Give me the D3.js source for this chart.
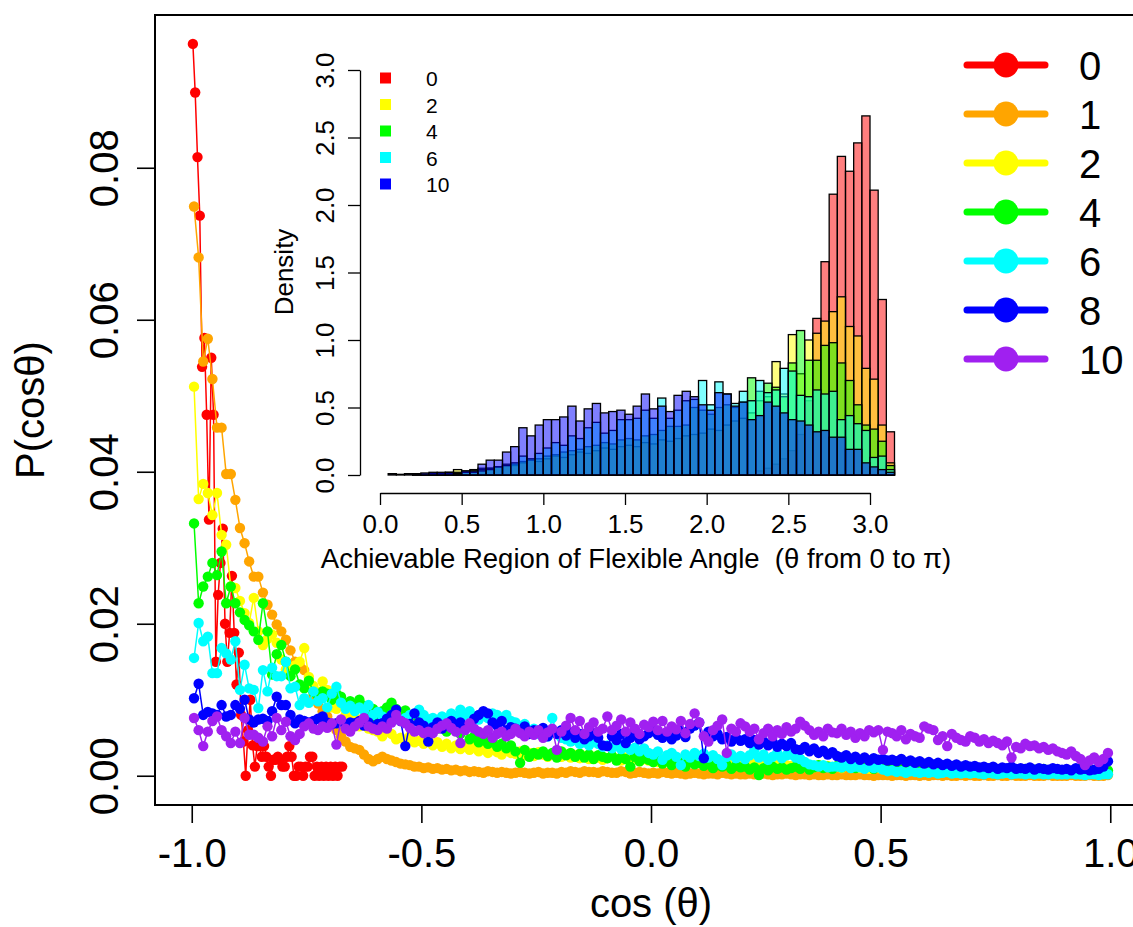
<!DOCTYPE html>
<html>
<head>
<meta charset="utf-8">
<script src="https://cdn.jsdelivr.net/npm/d3@7"></script>
<style>
  body { margin: 0; background: #fff; }
  svg { display: block; }
</style>
</head>
<body>
<div id="chart"></div>
<script>
// ---------- data ----------
// main panel: P(cos θ) per bin, stored as P × 10^4
const P_SCALE = 1e-4;
const groups      = ["0", "1", "2", "4", "6", "8", "10"];
const groupColors = ["#ff0000", "#ffa500", "#ffff00", "#00ff00", "#00ffff", "#0000ff", "#a020f0"];

// bin centres along cos θ (series "0" was binned finer)
const redStart = -0.9975, redStep = 0.005;
const binStart = -0.995,  binStep = 0.01;

const p0 = [963, 899, 814, 737, 538, 576, 475, 337, 550, 475,
  150, 238, 280, 325, 200, 150, 188, 263, 188, 120,
  162, 80, 45, 0, 60, 100, 40, 12, 39, 39,
  25, 39, 25, 12, 0, 21, 21, 25, 21, 12,
  12, 25, 39, 25, 0, 0, 12, 12, 0, 12,
  12, 25, 25, 0, 12, 0, 12, 0, 12, 0,
  12, 0, 12, 0, 12, 12];

const p1 = [749, 682, 545, 575, 522, 458, 458, 397, 397, 363,
  326, 306, 282, 262, 262, 241, 225, 212, 199, 190,
  179, 165, 150, 145, 139, 120, 105, 95, 85, 78,
  68, 60, 52, 45, 38, 36, 34, 28, 22, 19,
  22, 25, 22, 20, 18, 16, 15, 14, 12, 12,
  10, 11, 9, 10, 8, 9, 7, 8, 6, 7,
  5, 6, 5, 4, 6, 5, 4, 5, 4, 3,
  4, 5, 4, 3, 4, 5, 3, 4, 4, 3,
  5, 4, 6, 5, 4, 6, 5, 5, 4, 6,
  5, 4, 4, 6, 5, 3, 4, 5, 4, 3,
  4, 3, 5, 4, 3, 4, 3, 2, 3, 4,
  3, 2, 3, 3, 2, 4, 3, 2, 3, 2,
  2, 3, 2, 2, 3, 2, 1, 2, 2, 3,
  2, 1, 2, 2, 1, 2, 1, 1, 2, 1,
  1, 2, 1, 1, 1, 2, 1, 1, 0, 1,
  1, 1, 0, 1, 1, 0, 1, 1, 0, 1,
  0, 1, 1, 0, 1, 0, 0, 1, 0, 1,
  0, 0, 1, 0, 0, 1, 0, 0, 1, 0,
  0, 0, 1, 0, 0, 0, 1, 0, 0, 0,
  0, 1, 0, 0, 0, 1, 0, 0, 0, 1];

const p2 = [512, 364, 384, 372, 343, 372, 317, 304, 249, 247,
  230, 214, 201, 234, 190, 172, 180, 186, 175, 153,
  140, 135, 145, 150, 168, 130, 118, 110, 124, 113,
  90, 88, 95, 80, 72, 78, 65, 70, 62, 60,
  58, 52, 60, 55, 48, 50, 45, 52, 44, 46,
  42, 48, 40, 44, 38, 42, 36, 40, 35, 38,
  34, 38, 32, 36, 30, 34, 31, 28, 33, 30,
  29, 32, 27, 30, 26, 31, 28, 25, 29, 27,
  25, 28, 24, 27, 23, 26, 22, 25, 24, 21,
  23, 26, 22, 20, 24, 21, 23, 19, 22, 20,
  21, 18, 22, 19, 20, 17, 21, 18, 19, 16,
  18, 20, 16, 19, 17, 15, 18, 16, 17, 14,
  16, 18, 15, 17, 14, 16, 13, 15, 16, 14,
  13, 15, 12, 14, 13, 11, 14, 12, 13, 11,
  12, 10, 13, 11, 12, 10, 11, 9, 12, 10,
  10, 11, 9, 10, 8, 11, 9, 10, 8, 9,
  9, 8, 10, 7, 9, 8, 7, 9, 8, 7,
  8, 7, 9, 6, 8, 7, 6, 8, 7, 6,
  7, 6, 8, 6, 7, 5, 7, 6, 5, 7,
  6, 5, 7, 5, 6, 4, 6, 5, 4, 5];

const p4 = [332, 227, 249, 262, 280, 264, 295, 227, 249, 227,
  215, 205, 198, 190, 179, 227, 190, 133, 160, 172,
  150, 131, 140, 120, 115, 125, 110, 105, 111, 108,
  100, 108, 104, 95, 98, 90, 100, 92, 85, 88,
  74, 85, 90, 96, 88, 82, 86, 78, 80, 75,
  72, 68, 75, 62, 70, 58, 65, 60, 55, 62,
  48, 52, 44, 50, 42, 46, 38, 42, 36, 40,
  32, 17, 34, 25, 30, 28, 32, 26, 30, 24,
  32, 27, 30, 25, 29, 24, 28, 22, 27, 25,
  23, 26, 20, 24, 22, 12, 25, 19, 23, 21,
  18, 22, 16, 20, 14, 19, 17, 12, 18, 15,
  17, 13, 16, 10, 15, 12, 14, 9, 13, 11,
  12, 8, 11, 1, 10, 7, 12, 9, 11, 8,
  10, 12, 9, 13, 8, 11, 14, 10, 12, 9,
  13, 11, 15, 12, 10, 14, 11, 13, 9, 12,
  10, 13, 11, 9, 12, 10, 8, 11, 9, 10,
  9, 11, 8, 10, 7, 9, 11, 8, 10, 7,
  9, 8, 10, 7, 9, 8, 6, 9, 7, 8,
  7, 9, 6, 8, 7, 9, 6, 8, 7, 5,
  8, 6, 7, 9, 6, 8, 7, 9, 8, 7];

const p6 = [155, 201, 177, 183, 135, 135, 168, 161, 153, 177,
  113, 146, 115, 113, 89, 139, 111, 142, 131, 131,
  150, 115, 117, 93, 102, 96, 111, 98, 102, 90,
  108, 117, 96, 88, 92, 85, 90, 86, 93, 80,
  84, 78, 75, 80, 77, 72, 76, 80, 82, 87,
  80, 74, 76, 70, 78, 74, 82, 78, 87, 80,
  85, 78, 74, 80, 76, 82, 80, 76, 80, 72,
  70, 65, 68, 60, 62, 55, 58, 52, 76, 55,
  50, 48, 45, 47, 42, 44, 40, 46, 42, 38,
  40, 36, 42, 35, 38, 34, 37, 32, 36, 30,
  28, 32, 21, 27, 30, 25, 14, 28, 24, 30,
  26, 29, 24, 27, 22, 14, 25, 28, 23, 26,
  22, 27, 34, 24, 28, 21, 25, 30, 23, 27,
  28, 24, 22, 18, 15, 14, 12, 14, 11, 12,
  12, 11, 13, 10, 12, 11, 9, 12, 10, 11,
  8, 6, 7, 5, 6, 4, 6, 5, 4, 5,
  4, 5, 3, 4, 5, 3, 4, 3, 4, 3,
  4, 3, 2, 4, 3, 2, 3, 4, 2, 3,
  3, 2, 3, 2, 3, 2, 2, 3, 2, 2,
  2, 3, 2, 2, 1, 2, 2, 1, 2, 2];

const p8 = [102, 121, 80, 84, 82, 80, 93, 78, 80, 93,
  88, 100, 74, 70, 74, 75, 72, 85, 104, 93,
  93, 80, 69, 74, 72, 70, 72, 75, 78, 70,
  68, 69, 72, 66, 70, 69, 72, 66, 70, 64,
  68, 69, 75, 80, 87, 72, 39, 68, 82, 70,
  66, 45, 64, 70, 62, 68, 72, 65, 70, 62,
  68, 75, 80, 85, 82, 70, 66, 72, 60, 64,
  62, 58, 65, 55, 60, 57, 63, 52, 58, 55,
  60, 53, 57, 50, 55, 48, 52, 56, 50, 40,
  39, 52, 47, 55, 43, 50, 58, 48, 52, 56,
  60, 54, 50, 57, 48, 53, 59, 51, 62, 66,
  70, 23, 58, 52, 55, 48, 51, 45, 50, 46,
  48, 43, 47, 41, 45, 40, 44, 38, 42, 39,
  43, 35, 34, 38, 32, 36, 30, 33, 28, 31,
  26, 24, 27, 22, 25, 21, 24, 20, 23, 21,
  22, 20, 21, 19, 22, 18, 20, 17, 19, 16,
  18, 15, 17, 14, 16, 13, 15, 12, 14, 12,
  13, 11, 12, 10, 12, 9, 11, 10, 12, 9,
  10, 9, 11, 8, 10, 9, 8, 10, 9, 8,
  9, 7, 10, 8, 9, 7, 8, 9, 12, 19];

const p10 = [76, 60, 39, 58, 72, 78, 60, 52, 43, 58,
  43, 76, 54, 54, 50, 45, 65, 52, 76, 60,
  71, 52, 47, 55, 65, 69, 62, 60, 65, 63,
  69, 41, 74, 62, 58, 65, 70, 76, 65, 62,
  60, 65, 62, 70, 80, 72, 69, 63, 58, 60,
  56, 58, 56, 62, 66, 69, 63, 58, 43, 60,
  69, 62, 58, 55, 60, 50, 55, 58, 52, 55,
  62, 56, 52, 58, 54, 60, 50, 57, 62, 34,
  58, 66, 76, 60, 72, 55, 64, 70, 58, 62,
  78, 60, 66, 74, 58, 70, 62, 55, 67, 64,
  71, 60, 72, 58, 65, 61, 72, 56, 68, 82,
  70, 52, 45, 60, 66, 74, 30, 62, 58, 69,
  65, 58, 62, 48, 56, 62, 52, 60, 55, 64,
  58, 62, 71, 66, 60, 54, 58, 52, 62, 57,
  56, 62, 54, 58, 50, 56, 52, 60, 57, 60,
  34, 58, 56, 52, 60, 48, 55, 52, 50, 65,
  62, 60, 47, 52, 39, 55, 50, 47, 45, 52,
  50, 45, 48, 43, 46, 43, 40, 45, 24, 38,
  36, 42, 39, 40, 36, 38, 34, 36, 32, 30,
  28, 32, 26, 22, 14, 20, 24, 18, 22, 30];

// inset: density histograms of θ, breaks every 0.05 from 0.05 to 3.15
const histStart = 0.05, histStep = 0.05;
const insetGroups = ["0", "2", "4", "6", "10"];
const insetColors = ["#ff0000", "#ffff00", "#00ff00", "#00ffff", "#0000ff"];

const dens0 = [0, 0, 0, 0, 0, 0, 0, 0, 0,
  0, 0, 0, 0, 0, 0, 0, 0, 0, 0,
  0, 0, 0, 0, 0, 0, 0, 0, 0, 0,
  0, 0, 0, 0, 0, 0, 0, 0, 0, 0,
  0, 0, 0, 0, 0, 0,
  0.03, 0.05, 0.08, 0.12, 0.18, 0.30, 0.55, 1.16, 1.58, 2.08, 2.36, 2.25, 2.46, 2.66, 2.11, 1.30, 0.32];
const dens2 = [0, 0, 0, 0.005, 0.005, 0.01, 0.01, 0.02, 0.04,
  0.03, 0.04, 0.05, 0.05, 0.06, 0.08, 0.07, 0.09, 0.11, 0.10,
  0.12, 0.14, 0.13, 0.15, 0.17, 0.16, 0.18, 0.20, 0.19, 0.21,
  0.22, 0.21, 0.24, 0.23, 0.26, 0.25, 0.27, 0.29, 0.30, 0.31,
  0.34, 0.33, 0.37, 0.40, 0.42, 0.46,
  0.55, 0.58, 0.84, 0.60, 1.04, 0.75, 1.00, 1.05, 1.14, 1.21, 1.32, 1.10, 1.03, 0.79, 0.71, 0.37, 0.09];
const dens4 = [0, 0, 0, 0, 0.005, 0.005, 0.01, 0.01, 0.02,
  0.02, 0.03, 0.04, 0.05, 0.06, 0.07, 0.08, 0.10, 0.11, 0.12,
  0.14, 0.15, 0.17, 0.18, 0.19, 0.21, 0.22, 0.24, 0.23, 0.26,
  0.27, 0.26, 0.29, 0.30, 0.33, 0.36, 0.36, 0.37, 0.50, 0.48,
  0.45, 0.50, 0.52, 0.50, 0.54,
  0.72, 0.62, 0.68, 0.65, 0.58, 0.83, 1.07, 0.85, 0.85, 0.96, 0.98, 0.83, 0.70, 0.52, 0.37, 0.34, 0.25, 0.07];
const dens6 = [0, 0, 0, 0.005, 0.005, 0.01, 0.01, 0.01, 0.01,
  0.02, 0.02, 0.03, 0.04, 0.06, 0.07, 0.09, 0.14, 0.12, 0.16,
  0.20, 0.24, 0.22, 0.29, 0.27, 0.35, 0.39, 0.31, 0.33, 0.41,
  0.41, 0.42, 0.48, 0.42, 0.57, 0.42, 0.48, 0.55, 0.56, 0.70,
  0.52, 0.69, 0.60, 0.53, 0.62, 0.55, 0.70, 0.61, 0.63, 0.79,
  0.77, 0.59, 0.58, 0.63, 0.60, 0.62, 0.41, 0.44, 0.38, 0.33,
  0.13, 0.14, 0.04];
const dens10 = [0.01, 0.005, 0.01, 0.01, 0.015, 0.02, 0.02, 0.02, 0.01,
  0.03, 0.03, 0.08, 0.11, 0.11, 0.17, 0.21, 0.35, 0.29, 0.37,
  0.41, 0.41, 0.43, 0.51, 0.40, 0.49, 0.53, 0.46, 0.47, 0.48,
  0.45, 0.51, 0.60, 0.49, 0.51, 0.47, 0.59, 0.62, 0.58, 0.52,
  0.48, 0.61, 0.60, 0.51, 0.54, 0.41, 0.44, 0.54, 0.51, 0.46,
  0.41, 0.40, 0.37, 0.32, 0.33, 0.28, 0.28, 0.19, 0.19, 0.09,
  0.06, 0.04, 0.02];

// ticks
const mainXTicks  = [-1, -0.5, 0, 0.5, 1];
const mainYTicks  = [0, 0.02, 0.04, 0.06, 0.08];
const insetXTicks = [0, 0.5, 1, 1.5, 2, 2.5, 3];
const insetYTicks = [0, 0.5, 1, 1.5, 2, 2.5, 3];

// ---------- drawing ----------
const W = 1133, H = 927;
const FONT = "'Liberation Sans', Arial, sans-serif";

const svg = d3.select("#chart").append("svg")
  .attr("width", W).attr("height", H)
  .attr("viewBox", `0 0 ${W} ${H}`)
  .style("font-family", FONT);

// R pads each axis range by 4%, so the box sits outside the data
const x = d3.scaleLinear().domain([-1.08, 1.08]).range([155, 1147]);
const y = d3.scaleLinear().domain([-0.00385, 0.1001]).range([805, 15]);

// x axis
svg.append("g")
  .attr("transform", `translate(0,${y.range()[0]})`)
  .call(d3.axisBottom(x).tickValues(mainXTicks).tickSize(18).tickSizeOuter(0)
    .tickFormat(d => d.toFixed(1)))
  .call(g => g.select(".domain").remove())
  .call(g => g.selectAll(".tick line").attr("stroke", "#000").attr("stroke-width", 1.6))
  .call(g => g.selectAll("text")
    .attr("y", 62).attr("dy", null)
    .attr("fill", "#000").attr("font-size", 40).attr("font-family", FONT));

// y axis, labels parallel to the axis like R's default
svg.append("g")
  .attr("transform", `translate(${x.range()[0]},0)`)
  .call(d3.axisLeft(y).tickValues(mainYTicks).tickSize(18).tickSizeOuter(0)
    .tickFormat(d3.format(".2f")))
  .call(g => g.select(".domain").remove())
  .call(g => g.selectAll(".tick line").attr("stroke", "#000").attr("stroke-width", 1.6))
  .call(g => g.selectAll("text")
    .attr("x", null).attr("dy", null)
    .attr("text-anchor", "middle")
    .attr("transform", "translate(-37,0) rotate(-90)")
    .attr("fill", "#000").attr("font-size", 40).attr("font-family", FONT));

// box
svg.append("rect")
  .attr("x", x.range()[0]).attr("y", y.range()[1])
  .attr("width", x.range()[1] - x.range()[0])
  .attr("height", y.range()[0] - y.range()[1])
  .attr("fill", "none").attr("stroke", "#000").attr("stroke-width", 2);

// axis titles
svg.append("text")
  .attr("x", (x.range()[0] + x.range()[1]) / 2).attr("y", 917)
  .attr("text-anchor", "middle").attr("font-size", 40)
  .text("cos (θ)");
svg.append("text")
  .attr("transform", `translate(44,${(y.range()[0] + y.range()[1]) / 2}) rotate(-90)`)
  .attr("text-anchor", "middle").attr("font-size", 40)
  .text("P(cosθ)");

// series: lines + filled points, drawn 0 → 10
const seriesVals = [p0, p1, p2, p4, p6, p8, p10];
const series = groups.map((key, gi) => {
  const start = gi === 0 ? redStart : binStart;
  const step  = gi === 0 ? redStep  : binStep;
  return {
    key, color: groupColors[gi],
    points: seriesVals[gi].map((v, i) => ({ c: start + i * step, p: v * P_SCALE }))
  };
});

const line = d3.line().x(d => x(d.c)).y(d => y(d.p));

series.forEach(s => {
  const g = svg.append("g").attr("class", "series");
  g.append("path")
    .attr("d", line(s.points))
    .attr("fill", "none").attr("stroke", s.color).attr("stroke-width", 1.5);
  g.selectAll("circle").data(s.points).join("circle")
    .attr("cx", d => x(d.c)).attr("cy", d => y(d.p))
    .attr("r", 5.2).attr("fill", s.color);
});

// main legend
const legY = d3.scalePoint().domain(groups).range([65, 359]);
const leg = svg.append("g");
groups.forEach((key, gi) => {
  const cy = legY(key);
  leg.append("line")
    .attr("x1", 967).attr("x2", 1045).attr("y1", cy).attr("y2", cy)
    .attr("stroke", groupColors[gi]).attr("stroke-width", 7).attr("stroke-linecap", "round");
  leg.append("circle").attr("cx", 1006).attr("cy", cy).attr("r", 12.5).attr("fill", groupColors[gi]);
  leg.append("text").attr("x", 1079).attr("y", cy + 15)
    .attr("font-size", 40).text(key);
});

// ---------- inset histogram ----------
const xi = d3.scaleLinear().domain([0, 3]).range([380, 870]);
const yi = d3.scaleLinear().domain([0, 3]).range([475, 70]);

const densList = [dens0, dens2, dens4, dens6, dens10];
const inset = svg.append("g");
densList.forEach((dens, hi) => {
  const bins = dens.map((d, k) => ({ lo: histStart + k * histStep, hi: histStart + (k + 1) * histStep, d }))
    .filter(b => b.d > 0);
  inset.append("g").selectAll("rect").data(bins).join("rect")
    .attr("x", b => xi(b.lo)).attr("width", b => xi(b.hi) - xi(b.lo))
    .attr("y", b => yi(b.d)).attr("height", b => yi(0) - yi(b.d))
    .attr("fill", insetColors[hi]).attr("fill-opacity", 0.5)
    .attr("stroke", "#000").attr("stroke-width", 1.3);
});

// inset axes
svg.append("g")
  .attr("transform", "translate(0,493)")
  .call(d3.axisBottom(xi).tickValues(insetXTicks).tickSize(12).tickSizeOuter(0)
    .tickFormat(d3.format(".1f")))
  .call(g => g.select(".domain").attr("stroke", "#000").attr("stroke-width", 1.3))
  .call(g => g.selectAll(".tick line").attr("stroke", "#000").attr("stroke-width", 1.3))
  .call(g => g.selectAll("text")
    .attr("y", 40).attr("dy", null)
    .attr("fill", "#000").attr("font-size", 26).attr("font-family", FONT));

svg.append("g")
  .attr("transform", "translate(360,0)")
  .call(d3.axisLeft(yi).tickValues(insetYTicks).tickSize(12).tickSizeOuter(0)
    .tickFormat(d3.format(".1f")))
  .call(g => g.select(".domain").attr("stroke", "#000").attr("stroke-width", 1.3))
  .call(g => g.selectAll(".tick line").attr("stroke", "#000").attr("stroke-width", 1.3))
  .call(g => g.selectAll("text")
    .attr("x", null).attr("dy", null)
    .attr("text-anchor", "middle")
    .attr("transform", "translate(-26,0) rotate(-90)")
    .attr("fill", "#000").attr("font-size", 26).attr("font-family", FONT));

svg.append("text")
  .attr("x", 636).attr("y", 568)
  .attr("text-anchor", "middle").attr("font-size", 27.5)
  .text("Achievable Region of Flexible Angle  (θ from 0 to π)")
  .style("white-space", "pre");
svg.append("text")
  .attr("transform", "translate(293,272) rotate(-90)")
  .attr("text-anchor", "middle").attr("font-size", 26)
  .text("Density");

// inset legend
const insLegY = d3.scalePoint().domain(insetGroups).range([78, 184]);
insetGroups.forEach((key, i) => {
  const cy = insLegY(key);
  svg.append("rect").attr("x", 380).attr("y", cy - 5.5).attr("width", 11).attr("height", 11)
    .attr("fill", insetColors[i]);
  svg.append("text").attr("x", 426).attr("y", cy + 8).attr("font-size", 21).text(key);
});
</script>
</body>
</html>
